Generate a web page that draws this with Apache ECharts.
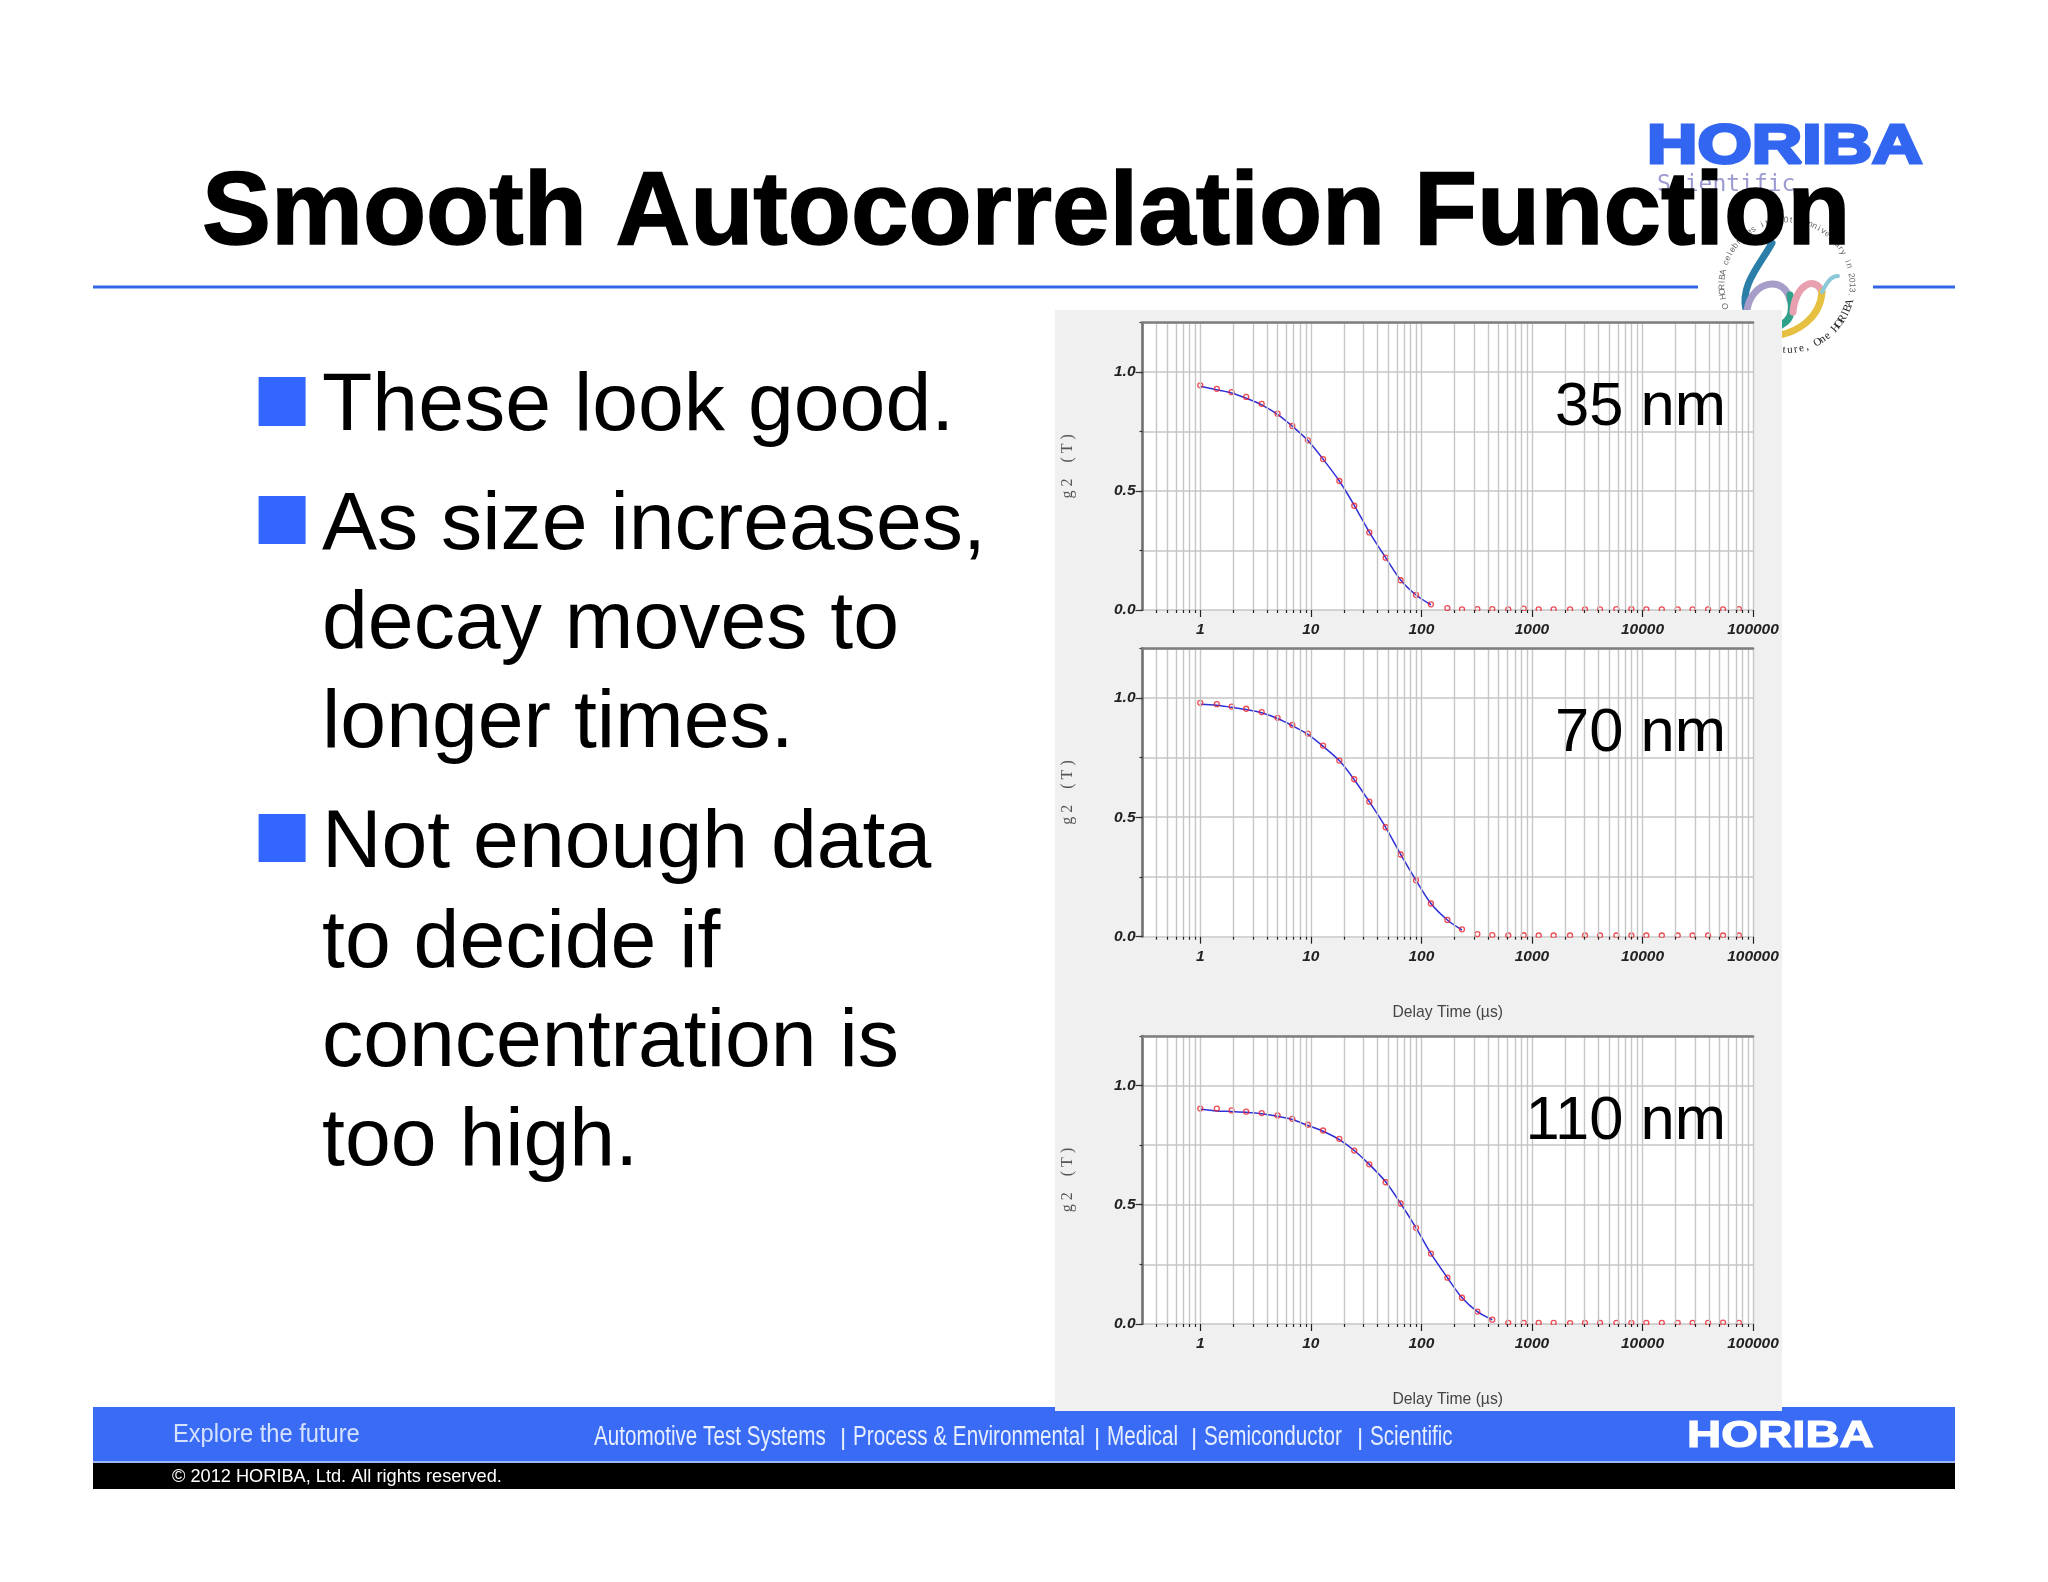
<!DOCTYPE html>
<html>
<head>
<meta charset="utf-8">
<style>html,body{margin:0;padding:0;background:#fff}#c{width:2048px;height:1582px}</style>
<script src="https://cdn.jsdelivr.net/npm/echarts@6/dist/echarts.min.js"></script>
</head>
<body>
<div id="c"></div>
<script>
const delayTimes = [1,1.41,1.92,2.6,3.59,5.0,6.8,9.4,12.9,18.1,24.7,33.8,47.5,64.9,89.5,122,172,233,321,438,611,843,1151,1573,2213,3020,4130,5808,7940,10840,14960,20840,28440,39260,53580,74650];
const g2_35nm = [.944,.929,.915,.895,.866,.825,.773,.713,.634,.542,.438,.326,.220,.125,.063,.024,.008,.003,.004,.004,.003,.006,.003,.003,.003,.003,.003,.004,.004,.003,.003,.003,.003,.003,.003,.004];
const g2_70nm = [.979,.973,.963,.954,.940,.916,.886,.850,.800,.737,.659,.565,.458,.344,.236,.139,.070,.031,.011,.007,.005,.006,.005,.005,.005,.005,.005,.005,.005,.005,.005,.005,.005,.005,.005,.005];
const g2_110nm = [.903,.903,.895,.890,.884,.874,.860,.835,.811,.776,.727,.669,.594,.505,.403,.295,.194,.110,.052,.018,.005,.005,.005,.005,.004,.005,.005,.005,.005,.005,.005,.005,.005,.005,.006,.005];
const fit_35nm = [.940,.925,.912,.890,.862,.822,.772,.712,.634,.542,.440,.327,.220,.126,.063,.022];
const fit_70nm = [.973,.969,.960,.951,.937,.913,.883,.847,.797,.737,.657,.565,.458,.345,.236,.139,.070,.028];
const fit_110nm = [.900,.893,.891,.887,.881,.871,.857,.832,.808,.773,.727,.669,.596,.505,.403,.295,.194,.110,.052,.018];
const xMajorTicks = [1,10,100,1000,10000,100000];
const xMinorTicks = [.4,.5,.6,.7,.8,.9,2,3,4,5,6,7,8,9,20,30,40,50,60,70,80,90,200,300,400,500,600,700,800,900,2000,3000,4000,5000,6000,7000,8000,9000,20000,30000,40000,50000,60000,70000,80000,90000];
const yLabelValues = [0,0.5,1];
const panelLabels = ['35 nm','70 nm','110 nm'];
const bodyLines = ['These look good.','As size increases,','decay moves to','longer times.','Not enough data','to decide if','concentration is','too high.'];
const footerItems = ['Automotive Test Systems','|','Process & Environmental','|','Medical','|','Semiconductor','|','Scientific'];

const SANS = '"Liberation Sans",Arial,sans-serif';
const G = [ {top:322.7,bottom:610,x:'',lab:426}, {top:648.3,bottom:936.7,x:'Delay Time (µs)',lab:752}, {top:1036,bottom:1324,x:'Delay Time (µs)',lab:1140} ];
const markers=[g2_35nm,g2_70nm,g2_110nm], fits=[fit_35nm,fit_70nm,fit_110nm];
const L=1142.5,R=1753;
const grid=[],xAxis=[],yAxis=[],series=[],graphic=[];
function T(text,x,y,size,fill,opt){opt=opt||{};graphic.push({type:'text',x:x,y:y,z:opt.z==null?20:opt.z,rotation:opt.rot||0,scaleX:opt.sx||1,scaleY:opt.sy||1,
  style:{text:text,fill:fill,stroke:opt.stroke,lineWidth:opt.lw||0,font:(opt.weight||'normal')+' '+size+'px '+(opt.fam||SANS),textAlign:opt.align||'left',textVerticalAlign:opt.va||'middle'}});}
function Rc(x,y,w,h,fill,z){graphic.push({type:'rect',z:z,shape:{x:x,y:y,width:w,height:h},style:{fill:fill}});}
function Bz(a,fill,w){graphic.push({type:'bezierCurve',z:-5,shape:{x1:a[0],y1:a[1],cpx1:a[2],cpy1:a[3],cpx2:a[4],cpy2:a[5],x2:a[6],y2:a[7]},style:{stroke:fill,lineWidth:w,fill:'none',lineCap:'round'}});}

G.forEach((g,i)=>{
  grid.push({left:L,width:R-L,top:g.top,height:g.bottom-g.top,show:true,backgroundColor:'#fff',borderWidth:0,containLabel:false});
  const axBase={type:'log',gridIndex:i,min:0.3,max:100000,position:'bottom',z:5,axisLine:{show:false}};
  xAxis.push(Object.assign({},axBase,{
    name:g.x,nameLocation:'middle',nameGap:68,nameTextStyle:{fontFamily:SANS,fontSize:15.7,color:'#444'},
    axisTick:{show:true,length:7,customValues:xMajorTicks,lineStyle:{color:'#222',width:1.2}},
    axisLabel:{show:true,customValues:xMajorTicks,margin:12,formatter:v=>String(Math.round(v)),fontFamily:SANS,fontSize:15.5,fontWeight:'bold',fontStyle:'italic',color:'#222'},
    splitLine:{show:true,customValues:xMajorTicks,lineStyle:{color:'#c6c6c6',width:1.4}}
  }));
  xAxis.push(Object.assign({},axBase,{
    axisTick:{show:true,length:3,customValues:xMinorTicks,lineStyle:{color:'#222',width:1.2}},
    axisLabel:{show:false},
    splitLine:{show:true,customValues:xMinorTicks,lineStyle:{color:'#c6c6c6',width:1.4}}
  }));
  xAxis.push(Object.assign({},axBase,{position:'top',axisLine:{show:true,lineStyle:{color:'#7f7f7f',width:2.6}},axisTick:{show:false},axisLabel:{show:false},splitLine:{show:false}}));
  yAxis.push({type:'value',gridIndex:i,min:0,max:1.207,interval:0.25,
    name:'g 2    ( T )',nameLocation:'middle',nameGap:67,nameTextStyle:{fontFamily:'"Liberation Serif",serif',fontSize:16,color:'#555'},
    axisLine:{show:true,lineStyle:{color:'#707070',width:2.6}},
    axisTick:{show:true,length:3,lineStyle:{color:'#333',width:1.2}},
    axisLabel:{customValues:yLabelValues,margin:7,formatter:v=>v.toFixed(1),fontFamily:SANS,fontSize:15.5,fontWeight:'bold',fontStyle:'italic',color:'#222'},
    splitLine:{show:true,lineStyle:{width:1.6,color:'#c6c6c6'}}
  });
  yAxis.push({type:'value',gridIndex:i,min:0,max:1.207,interval:0.5,position:'left',z:5,
    axisLine:{show:false},axisLabel:{show:false},splitLine:{show:false},
    axisTick:{show:true,length:7,customValues:yLabelValues,lineStyle:{color:'#333',width:1.2}}});
  const yi=i*2, xi=i*3;
  series.push({type:'line',name:'fit '+panelLabels[i],xAxisIndex:xi,yAxisIndex:yi,z:2,smooth:0.3,showSymbol:false,symbol:'none',silent:true,
    data:fits[i].map((v,k)=>[delayTimes[k],v]),lineStyle:{color:'#2f2fd8',width:1.5}});
  series.push({type:'scatter',name:'g2 '+panelLabels[i],xAxisIndex:xi,yAxisIndex:yi,z:2,symbol:'circle',symbolSize:5,silent:true,
    data:markers[i].map((v,k)=>[delayTimes[k],v]),itemStyle:{color:'transparent',borderColor:'#e8202a',borderWidth:1.3}});
  Rc(L-1,g.bottom+1,R-L+3,7,'#f0f0f0',3);
  T(panelLabels[i],1726,g.lab-18,61.5,'#000',{align:'right',z:20});
});

// slide furniture
Rc(1055,310,727,1101,'#f0f0f0',-1);
Rc(93,285.5,1605,3,'#3366e6',-6);
Rc(1873,285.5,82,3,'#3366e6',-6);
bodyLines.forEach((t,i)=>{const base=[431,550,649,748,868,968,1067,1166][i];T(t,322,base-24,82.4,'#000');});
Rc(258.6,377,47,49,'#3366ff',1);Rc(258.6,496,47,48,'#3366ff',1);Rc(258.6,814,47,48,'#3366ff',1);
// footer
Rc(93,1407,1862,54,'#3a6bf5',-3);Rc(93,1461,1862,2,'#9db8f8',-3);Rc(93,1463,1862,26,'#000',-3);
T('Explore the future',173,1435,26,'#d5e2ff',{sx:0.91,z:-2});
const fx=[594,840,853,1094,1107,1191,1204,1357,1370];
footerItems.forEach((t,i)=>T(t,fx[i],1438,t==='|'?24:27,'#e6eeff',{sx:t==='|'?1:0.765,z:-2}));
T('HORIBA',1687,1437,37,'#fff',{weight:'bold',sx:1.28,stroke:'#fff',lw:1.2,z:-2});
T('© 2012 HORIBA, Ltd. All rights reserved.',172,1477,18.2,'#fff',{z:-2});
// header logo
T('HORIBA',1647,148,55,'#3366f0',{weight:'bold',sx:1.27,stroke:'#3366f0',lw:3,z:-5});
T('Scientific',1657,185,23,'#9b9bd2',{fam:'"DejaVu Sans Mono",monospace',z:-5});
// anniversary emblem
const cx=1787,cy=285,r=65;
[...'O HORIBA celebrates its 60th anniversary in 2013.'].forEach((ch,i)=>{const a=(-109+i*4.33)*Math.PI/180;
  T(ch,cx+r*Math.sin(a),cy-r*Math.cos(a),8.5,'#666',{rot:-a,align:'center',z:-5});});
[...'One Future, One HORIBA'].reverse().forEach((ch,i)=>{const a=(106+i*5.1)*Math.PI/180;
  T(ch,cx+r*Math.sin(a),cy-r*Math.cos(a),11,'#222',{rot:Math.PI-a,align:'center',fam:'"Liberation Serif",serif',z:-5});});
Bz([1772,243,1760,265,1740,285,1746,310],'#2b7ea8',7);
Bz([1747,310,1752,280,1785,275,1790,300],'#a89cc8',7);
Bz([1790,295,1795,320,1785,322,1780,326],'#2fa08a',7);
Bz([1793,312,1795,285,1815,275,1822,292],'#e8a0b0',7);
Bz([1822,292,1820,320,1795,332,1780,335],'#e6c040',7);
Bz([1822,292,1828,280,1832,276,1838,276],'#8cc8d8',4);

const chart=echarts.init(document.getElementById('c'),null,{renderer:'canvas'});
chart.setOption({animation:false,backgroundColor:'#fff',
  title:{text:'Smooth Autocorrelation Function',left:197,top:159,textStyle:{fontFamily:SANS,fontWeight:'bold',fontSize:103.4,color:'#000',textBorderColor:'#000',textBorderWidth:1.5}},
  grid,xAxis,yAxis,series,graphic:{elements:graphic}});
</script>
</body>
</html>
